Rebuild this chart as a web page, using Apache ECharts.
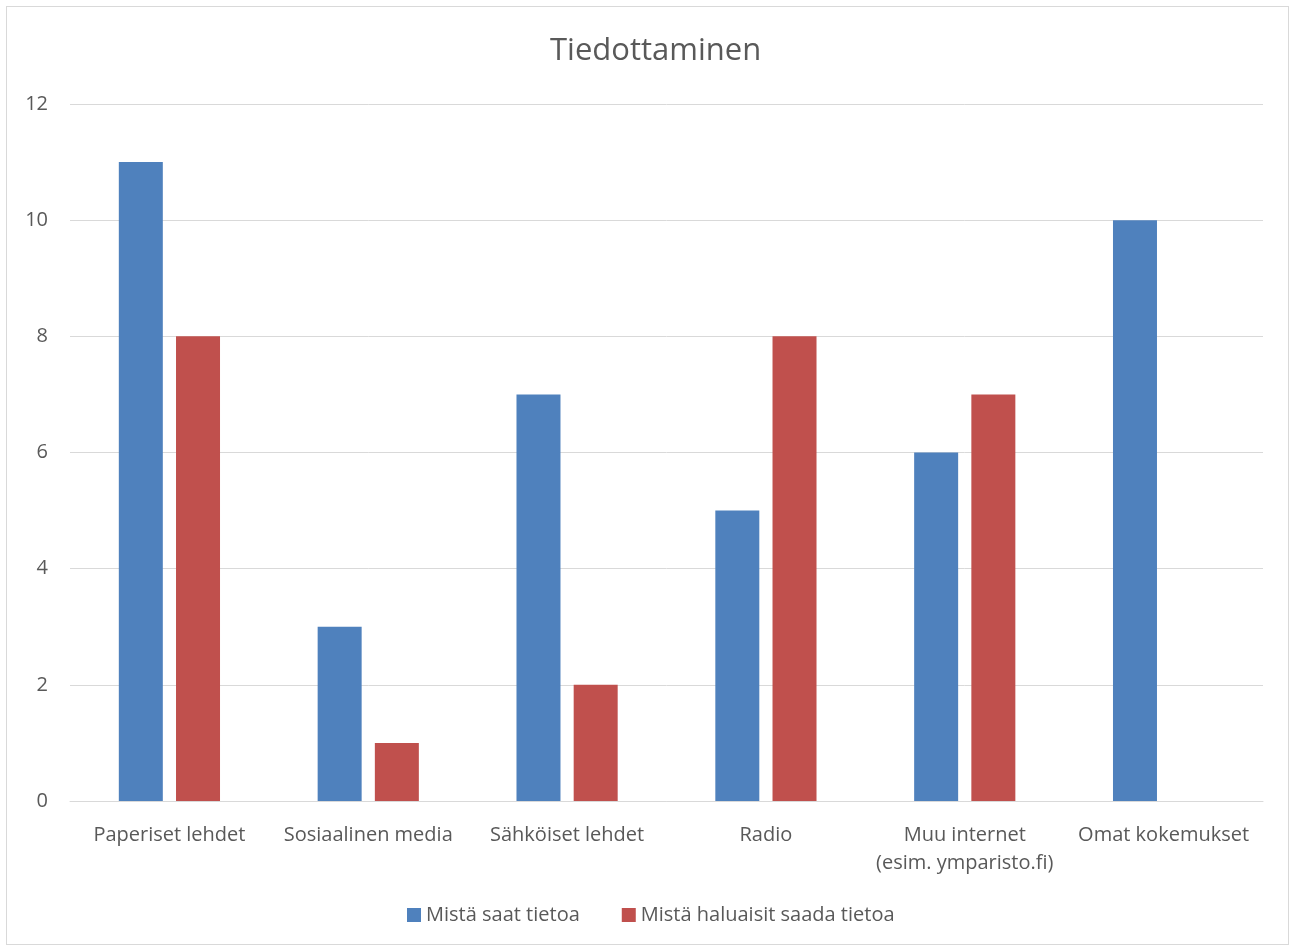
<!DOCTYPE html>
<html><head><meta charset="utf-8">
<script src="https://cdn.jsdelivr.net/npm/echarts@6/dist/echarts.min.js"></script>
<style>html,body{margin:0;padding:0;background:#fff}#frame{position:absolute;left:6px;top:6px;width:1283px;height:939px;border:1px solid #d9d9d9;box-sizing:border-box}#c{position:absolute;left:0;top:0;width:1291px;height:949px}</style>
</head><body><div id="frame"></div><div id="c"></div>
<script>
const categories = ['Paperiset lehdet', 'Sosiaalinen media', 'Sähköiset lehdet', 'Radio', 'Muu internet\n(esim. ymparisto.fi)', 'Omat kokemukset'];
const seriesNames = ['Mistä saat tietoa', 'Mistä haluaisit saada tietoa'];
const saatTietoa = [11, 3, 7, 5, 6, 10];
const haluaisitTietoa = [8, 1, 2, 8, 7, 0];
const yTicks = [0, 2, 4, 6, 8, 10, 12];

const font = 'Open Sans';
const chart = echarts.init(document.getElementById('c'));
chart.setOption({
  animation: false,
  title: { text: 'Tiedottaminen', left: 545, top: 31, textStyle: { fontFamily: font, fontSize: 31, fontWeight: 'normal', color: '#595959' } },
  legend: { bottom: 19, left: 402, itemWidth: 14, itemHeight: 14, itemGap: 42, icon: 'rect',
    textStyle: { fontFamily: font, fontSize: 20, color: '#595959' }, data: seriesNames },
  grid: { left: 70, right: 28, top: 104, bottom: 148, containLabel: false },
  xAxis: { type: 'category', data: categories,
    axisLine: { lineStyle: { color: '#d9d9d9' } }, axisTick: { show: false },
    axisLabel: { fontFamily: font, fontSize: 20, color: '#595959', margin: 20, lineHeight: 28, interval: 0 } },
  yAxis: { type: 'value', min: yTicks[0], max: yTicks[yTicks.length - 1], interval: 2,
    axisLine: { show: false }, axisTick: { show: false },
    splitLine: { lineStyle: { color: '#d9d9d9' } },
    axisLabel: { fontFamily: font, fontSize: 20, color: '#595959', margin: 22 } },
  series: [
    { name: seriesNames[0], type: 'bar', data: saatTietoa, barWidth: 44, barGap: '30%', itemStyle: { color: '#4f81bd' } },
    { name: seriesNames[1], type: 'bar', data: haluaisitTietoa, barWidth: 44, itemStyle: { color: '#c0504d' } }
  ]
});
</script></body></html>
